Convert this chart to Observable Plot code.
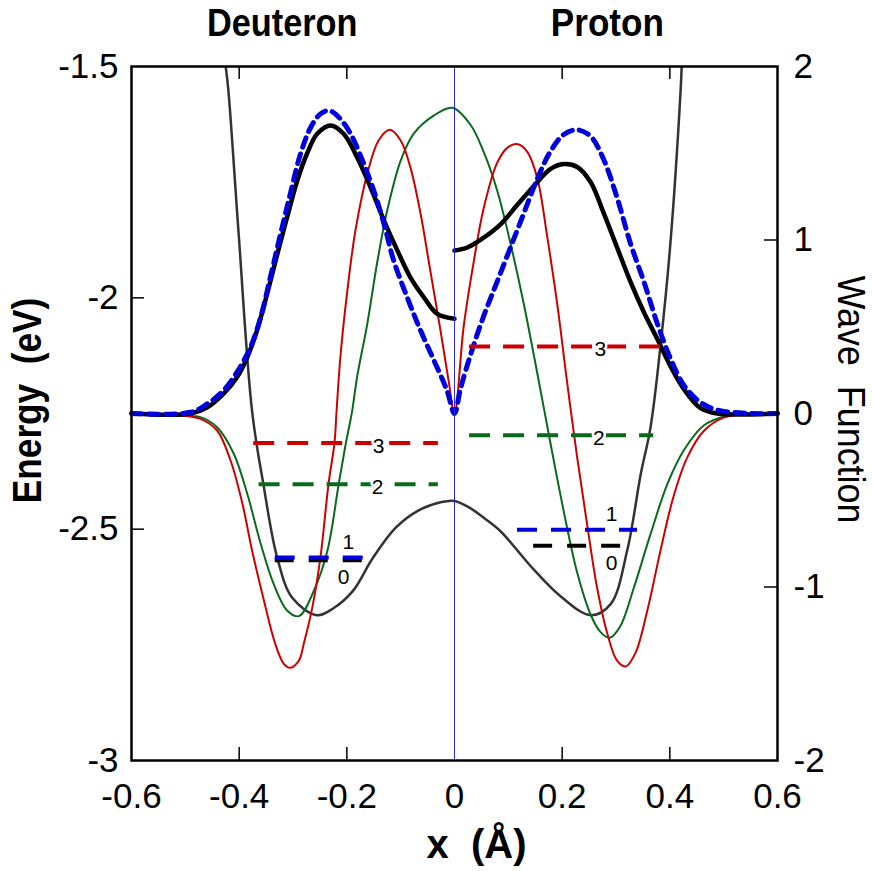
<!DOCTYPE html>
<html>
<head>
<meta charset="utf-8">
<script src="https://cdn.jsdelivr.net/npm/d3@7"></script>
<script src="https://cdn.jsdelivr.net/npm/@observablehq/plot@0.6"></script>
<style>
  html, body { margin: 0; padding: 0; background: #fff; }
  #chart { width: 873px; height: 871px; }
</style>
</head>
<body>
<div id="chart"></div>
<script>
// ---------- data ----------
// Double-well potential: [x (Å), Energy (eV)]
const potential = [
  [-0.425, -1.500], [-0.420, -1.552], [-0.401, -1.861], [-0.376, -2.245], [-0.355, -2.403],
  [-0.329, -2.563], [-0.301, -2.649], [-0.255, -2.686], [-0.225, -2.671], [-0.189, -2.634],
  [-0.152, -2.563], [-0.110, -2.498], [-0.069, -2.461], [-0.026, -2.442], [0.000, -2.439],
  [0.030, -2.455], [0.055, -2.476], [0.085, -2.504], [0.147, -2.587], [0.197, -2.645],
  [0.253, -2.686], [0.290, -2.662], [0.321, -2.545], [0.346, -2.381], [0.364, -2.281],
  [0.383, -2.100], [0.401, -1.883], [0.420, -1.552], [0.422, -1.500]
];

// Wave functions: [x (Å), psi]
const psiRed = [
  [-0.600, 0], [-0.509, -0.012], [-0.472, -0.031], [-0.441, -0.098], [-0.416, -0.271],
  [-0.394, -0.519], [-0.376, -0.790], [-0.354, -1.078], [-0.333, -1.327], [-0.317, -1.443],
  [-0.305, -1.466], [-0.289, -1.424], [-0.280, -1.327], [-0.264, -1.116], [-0.249, -0.828],
  [-0.234, -0.405], [-0.223, -0.171], [-0.219, 0.017], [-0.212, 0.324], [-0.199, 0.709],
  [-0.184, 1.055], [-0.162, 1.382], [-0.141, 1.573], [-0.120, 1.635], [-0.100, 1.573],
  [-0.082, 1.420], [-0.063, 1.151], [-0.045, 0.824], [-0.026, 0.478], [-0.011, 0.190],
  [0.000, 0.000], [0.017, 0.500], [0.036, 0.880], [0.054, 1.180], [0.079, 1.443],
  [0.098, 1.531], [0.116, 1.553], [0.135, 1.509], [0.154, 1.354], [0.172, 1.024],
  [0.191, 0.627], [0.209, 0.185], [0.228, -0.256], [0.247, -0.653], [0.265, -1.006],
  [0.284, -1.270], [0.302, -1.425], [0.318, -1.458], [0.336, -1.381], [0.358, -1.138],
  [0.383, -0.785], [0.407, -0.477], [0.432, -0.256], [0.463, -0.101], [0.500, -0.024],
  [0.550, -0.002], [0.600, 0]
];
const psiGreen = [
  [-0.600, 0], [-0.509, -0.012], [-0.472, -0.021], [-0.441, -0.079], [-0.410, -0.232],
  [-0.385, -0.463], [-0.360, -0.751], [-0.336, -0.982], [-0.311, -1.135], [-0.289, -1.168],
  [-0.261, -1.020], [-0.236, -0.790], [-0.215, -0.405], [-0.202, -0.175], [-0.190, 0.017],
  [-0.181, 0.209], [-0.162, 0.517], [-0.144, 0.863], [-0.125, 1.170], [-0.100, 1.458],
  [-0.076, 1.612], [-0.038, 1.718], [-0.004, 1.762], [0.030, 1.663], [0.054, 1.509],
  [0.079, 1.288], [0.104, 0.980], [0.129, 0.627], [0.154, 0.229], [0.178, -0.167],
  [0.203, -0.565], [0.228, -0.918], [0.253, -1.160], [0.271, -1.259], [0.288, -1.293],
  [0.308, -1.226], [0.333, -1.006], [0.364, -0.697], [0.395, -0.410], [0.426, -0.212],
  [0.463, -0.069], [0.507, -0.013], [0.550, -0.002], [0.600, 0]
];
const psiBlackLeft = [
  [-0.600, 0], [-0.490, 0], [-0.459, 0.036], [-0.429, 0.114], [-0.404, 0.209],
  [-0.385, 0.324], [-0.367, 0.478], [-0.348, 0.690], [-0.329, 0.920], [-0.311, 1.131],
  [-0.292, 1.343], [-0.274, 1.497], [-0.255, 1.612], [-0.230, 1.660], [-0.206, 1.612],
  [-0.181, 1.477], [-0.156, 1.304], [-0.131, 1.112], [-0.106, 0.939], [-0.082, 0.785],
  [-0.057, 0.670], [-0.032, 0.574], [0.000, 0.546]
];
const psiBlackRight = [
  [0.000, 0.939], [0.024, 0.957], [0.054, 1.013], [0.085, 1.089], [0.116, 1.200],
  [0.147, 1.310], [0.178, 1.409], [0.203, 1.438], [0.228, 1.421], [0.253, 1.333],
  [0.277, 1.156], [0.302, 0.957], [0.327, 0.758], [0.352, 0.582], [0.377, 0.428],
  [0.401, 0.274], [0.426, 0.141], [0.457, 0.031], [0.488, 0], [0.600, 0]
];
const psiBlue = [
  [-0.600, 0], [-0.490, 0.007], [-0.459, 0.056], [-0.429, 0.133], [-0.404, 0.238],
  [-0.379, 0.382], [-0.360, 0.555], [-0.342, 0.786], [-0.323, 1.036], [-0.305, 1.266],
  [-0.286, 1.497], [-0.267, 1.650], [-0.249, 1.727], [-0.233, 1.746], [-0.215, 1.708],
  [-0.193, 1.612], [-0.171, 1.458], [-0.150, 1.285], [-0.131, 1.093], [-0.113, 0.882],
  [-0.088, 0.670], [-0.063, 0.478], [-0.038, 0.305], [-0.014, 0.133], [0.000, 0.000],
  [0.011, 0.141], [0.030, 0.340], [0.054, 0.560], [0.079, 0.758], [0.104, 0.957],
  [0.129, 1.156], [0.154, 1.354], [0.178, 1.509], [0.203, 1.608], [0.228, 1.635],
  [0.253, 1.597], [0.277, 1.465], [0.302, 1.244], [0.327, 0.979], [0.352, 0.758],
  [0.377, 0.516], [0.401, 0.318], [0.426, 0.163], [0.457, 0.064], [0.488, 0.020],
  [0.550, 0], [0.600, 0]
];

// Energy levels: n, energy (eV), x-extent (Å), label x
const levelN = ["3", "2", "1", "0", "3", "2", "1", "0"];
const levelE = [-2.314, -2.403, -2.561, -2.567, -2.105, -2.297, -2.501, -2.536];
const levelX1 = [-0.373, -0.363, -0.333, -0.333, 0.028, 0.028, 0.117, 0.147];
const levelX2 = [-0.030, -0.030, -0.169, -0.169, 0.383, 0.370, 0.340, 0.314];
const levelLabelX = [-0.141, -0.143, -0.197, -0.206, 0.271, 0.268, 0.292, 0.292];

// Axes
const xTickLabels = [-0.6, -0.4, -0.2, 0, 0.2, 0.4, 0.6];
const xTicks = [-0.4, -0.2, 0.2, 0.4];
const eTickLabels = [-1.5, -2, -2.5, -3];
const eTicks = [-2, -2.5];
const psiTickLabels = [2, 1, 0, -1, -2];
const psiTicks = [1, 0, -1];
const panelTitles = ["Deuteron", "Proton"];
const panelTitleX = [-0.32, 0.284];
const xLabel = "x\u00a0\u00a0(Å)";
const yLabelLeft = "Energy\u00a0\u00a0(eV)";
const yLabelRight = "Wave\u00a0\u00a0Function";

// ---------- chart ----------
const W = 873, H = 871;
const mL = 131, mR = 96, mT = 66, mB = 111;
const plotW = W - mL - mR, plotH = H - mT - mB;
const psiToE = p => -2.25 + 0.375 * p;   // right axis (psi) mapped onto the energy axis

const RED = "#cc0000", GREEN = "#0a6a1c", BLUE = "#0000dd", GRAY = "#333333";
const sans = "Liberation Sans, Arial, sans-serif";

const levels = levelN.map((n, i) => ({n, E: levelE[i], x1: levelX1[i], x2: levelX2[i], lx: levelLabelX[i]}));
const lev = n => levels.filter(d => d.n === n);

const lineOpts = (stroke, strokeWidth, extra = {}) => ({
  x: d => d[0], y: d => psiToE(d[1]), stroke, strokeWidth, curve: "catmull-rom", ...extra
});
const levelRule = (n, stroke, dash) =>
  Plot.ruleY(lev(n), {y: "E", x1: "x1", x2: "x2", stroke, strokeWidth: 4, strokeDasharray: dash});

const chart = Plot.plot({
  width: W, height: H,
  marginLeft: mL, marginRight: mR, marginTop: mT, marginBottom: mB,
  x: {domain: [-0.6, 0.6], axis: null},
  y: {domain: [-3, -1.5], axis: null},
  style: {background: "white", fontFamily: sans},
  marks: [
    // potential
    Plot.line(potential, {x: d => d[0], y: d => d[1], stroke: GRAY, strokeWidth: 2.5, curve: "catmull-rom", clip: true}),
    // wave functions
    Plot.line(psiGreen, lineOpts(GREEN, 2)),
    Plot.line(psiRed, lineOpts(RED, 2)),
    Plot.line(psiBlackLeft, lineOpts("black", 4.5)),
    Plot.line(psiBlackRight, lineOpts("black", 4.5)),
    Plot.line(psiBlue, lineOpts(BLUE, 5, {strokeDasharray: "10,7"})),
    // energy levels
    levelRule("3", RED, "21,13"),
    levelRule("2", GREEN, "21,13"),
    levelRule("0", "black", "19,15"),
    levelRule("1", BLUE, "20,14"),
    Plot.text(levels.filter(d => d.n === "3" || d.n === "2"), {x: "lx", y: "E", text: "n",
      fontSize: 21, fontFamily: sans, fill: "black", stroke: "white", strokeWidth: 5, dy: 3}),
    Plot.text(lev("1"), {x: "lx", y: "E", text: "n", fontSize: 21, fontFamily: sans, fill: "black", dy: -15}),
    Plot.text(lev("0"), {x: "lx", y: "E", text: "n", fontSize: 21, fontFamily: sans, fill: "black", dy: 17}),
    // center line
    Plot.ruleX([0], {stroke: "#2a2ad0", strokeWidth: 1}),
    // frame and inward ticks
    Plot.frame({stroke: "black", strokeWidth: 2.5}),
    Plot.tickX(xTicks, {x: d => d, insetTop: plotH - 13, stroke: "black", strokeWidth: 1.5}),
    Plot.tickX(xTicks, {x: d => d, insetBottom: plotH - 13, stroke: "black", strokeWidth: 1.5}),
    Plot.tickY(eTicks, {y: d => d, insetRight: plotW - 13, stroke: "black", strokeWidth: 1.5}),
    Plot.tickY(psiTicks, {y: d => psiToE(d), insetLeft: plotW - 13, stroke: "black", strokeWidth: 1.5}),
    // tick labels
    Plot.text(xTickLabels, {x: d => d, frameAnchor: "bottom", dy: 23, lineAnchor: "top",
      text: d => String(d), fontSize: 35, fontFamily: sans, fill: "black"}),
    Plot.text(eTickLabels, {y: d => d, frameAnchor: "left", dx: -13, textAnchor: "end",
      text: d => String(d), fontSize: 35, fontFamily: sans, fill: "black"}),
    Plot.text(psiTickLabels, {y: d => psiToE(d), frameAnchor: "right", dx: 16, textAnchor: "start",
      text: d => String(d), fontSize: 35, fontFamily: sans, fill: "black"}),
    // titles
    Plot.text(panelTitles, {x: (d, i) => panelTitleX[i], frameAnchor: "top", dy: -31, lineAnchor: "bottom",
      textAnchor: "middle", text: d => d, fontSize: 39, fontWeight: "bold", fontFamily: sans, fill: "black"}),
    Plot.text([xLabel], {frameAnchor: "bottom", dx: 22, dy: 97, lineAnchor: "bottom", textAnchor: "middle",
      text: d => d, fontSize: 40, fontWeight: "bold", fontFamily: sans, fill: "black"}),
    Plot.text([yLabelLeft], {frameAnchor: "left", dx: -103, dy: -13, rotate: -90, textAnchor: "middle",
      lineAnchor: "middle", text: d => d, fontSize: 40, fontWeight: "bold", fontFamily: sans, fill: "black"}),
    Plot.text([yLabelRight], {frameAnchor: "right", dx: 73, dy: -14, rotate: 90, textAnchor: "middle",
      lineAnchor: "middle", text: d => d, fontSize: 39, fontFamily: sans, fill: "black"})
  ]
});

// condense some labels along their reading direction (reference uses a condensed face)
const condense = {"Deuteron": 0.88, "Proton": 0.9, [yLabelLeft]: 0.88, [yLabelRight]: 0.92};
d3.select(chart).selectAll("text").each(function () {
  const s = condense[this.textContent];
  if (!s) return;
  let t = this.getAttribute("transform");
  if (!t) {
    const x = +this.getAttribute("x") || 0, y = +this.getAttribute("y") || 0;
    this.removeAttribute("x"); this.removeAttribute("y");
    t = `translate(${x},${y})`;
  }
  this.setAttribute("transform", `${t} scale(${s},1)`);
});
document.getElementById("chart").appendChild(chart);
</script>
</body>
</html>
